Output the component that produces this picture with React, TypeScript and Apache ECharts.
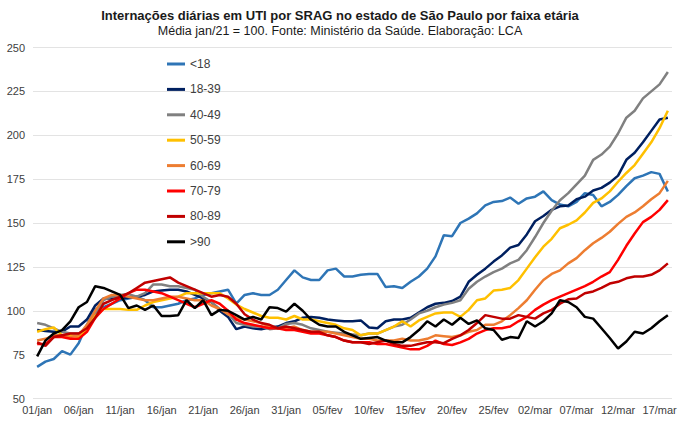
import React, { useEffect, useRef } from 'react';
import * as echarts from 'echarts';

const categories = [
  '01/jan','02/jan','03/jan','04/jan','05/jan','06/jan','07/jan','08/jan','09/jan','10/jan',
  '11/jan','12/jan','13/jan','14/jan','15/jan','16/jan','17/jan','18/jan','19/jan','20/jan',
  '21/jan','22/jan','23/jan','24/jan','25/jan','26/jan','27/jan','28/jan','29/jan','30/jan',
  '31/jan','01/fev','02/fev','03/fev','04/fev','05/fev','06/fev','07/fev','08/fev','09/fev',
  '10/fev','11/fev','12/fev','13/fev','14/fev','15/fev','16/fev','17/fev','18/fev','19/fev',
  '20/fev','21/fev','22/fev','23/fev','24/fev','25/fev','26/fev','27/fev','28/fev','01/mar',
  '02/mar','03/mar','04/mar','05/mar','06/mar','07/mar','08/mar','09/mar','10/mar','11/mar',
  '12/mar','13/mar','14/mar','15/mar','16/mar','17/mar','18/mar'
];

const under18 = [
  68, 71, 72.5, 77, 75, 81.5, 92, 101, 102, 104,
  106, 107, 108, 106, 102, 102, 103, 104, 106, 107,
  109, 110, 111, 112, 104, 109, 110, 109, 109, 112,
  117.5, 123, 119, 117.5, 117.5, 123, 124, 119.5, 119.5, 120.5,
  121, 121, 113.5, 114, 113, 116.5, 119.5, 124, 131, 143,
  142.5, 150, 152.5, 155.5, 160, 162, 162.5, 164.5, 161, 164,
  165, 168, 163, 160.5, 159.5, 162, 167, 166, 159.5, 162,
  166, 171, 175.5, 177, 179, 178, 168
];

const age18to39 = [
  89, 88.5, 88, 88, 91, 91, 95, 103, 107, 107,
  107, 107.5, 108, 109, 111, 111.5, 112, 112, 111, 109,
  107, 105, 100, 96.5, 89.5, 91, 90, 89.5, 90.5, 91,
  93, 94, 96, 96.5, 96, 95, 94.5, 94, 94, 94.5,
  90.5, 90, 94, 95, 95, 96, 99, 102, 104, 104.5,
  105.5, 108, 116.5, 120.5, 124, 128, 131.5, 136, 137.5, 143.5,
  151, 154, 157.5, 159.5, 160, 163.5, 165, 168.5, 170, 173,
  177, 186, 190, 196, 202.5, 209, 210
];

const age40to49 = [
  93, 92, 90, 88, 87, 87, 90, 98, 106, 108,
  109, 109.5, 108, 110, 115, 115, 114, 114, 113, 112,
  108, 105, 101, 98.5, 93, 92, 91, 91, 89.5, 90,
  92.5, 93, 92, 90, 89, 88, 87.5, 87, 86.5, 86,
  87, 87, 89, 91, 92, 95, 98.5, 100, 102, 103.5,
  104.5, 106, 112.5, 116.5, 119.5, 122, 124, 127, 129, 134.5,
  142, 150, 157, 163, 167, 172, 177, 186, 189, 193.5,
  201, 210, 214, 221, 225, 229, 236
];

const age50to59 = [
  88, 89.5, 90.5, 86, 86, 85, 90, 97, 101, 101,
  101, 100.5, 100.5, 103, 105, 106, 107, 108, 110, 110,
  110, 110, 110, 107, 103.5, 101, 99, 97, 96, 96,
  95, 97, 95, 95, 94, 93, 92, 90, 89, 86,
  87, 87, 89, 91, 94, 91, 94.5, 96.5, 98.5, 99,
  99, 96.5, 100.5, 106, 107, 111.5, 112, 113, 117.5, 124,
  130.5, 136.5, 141, 147, 149, 151.5, 156, 161.5, 164, 168,
  173.5, 178.5, 183, 189.5, 196, 204, 214
];

const age60to69 = [
  83, 84, 86, 86, 85, 86, 92, 100, 107, 109,
  109, 108, 107, 106, 106, 107, 108, 108, 107, 106,
  106, 103, 101, 98, 96, 95, 94, 93, 91, 90,
  90, 91, 89, 88, 88, 88, 87, 86, 85, 84,
  84, 83, 83, 83, 84, 83, 83, 84, 86, 85.5,
  85, 86, 88, 89, 92, 92, 94, 97.5, 101.5, 106,
  112, 117.5, 121, 123, 127, 130, 134.5, 138.5, 141.5, 145,
  149.5, 153.5, 156, 159.5, 163.5, 167, 174
];

const age70to79 = [
  81, 81, 85, 85, 84, 84, 88, 96, 101, 104,
  107, 110, 112, 112, 111, 110, 108, 106, 104, 102,
  104, 106, 104, 100, 95, 93, 92, 91, 90, 90,
  89, 89, 88, 87, 87, 86, 85, 83, 82, 82,
  82, 81, 81, 80, 79, 78, 78, 80, 83, 81,
  80.5, 82, 84, 87, 89, 90, 90, 91, 94, 96.5,
  100.5, 103.5, 106, 108, 110, 112, 114, 116.5, 119.5, 122,
  129, 137, 144, 150.5, 153.5, 157.5, 163
];

const age80to89 = [
  82, 80, 85, 86, 87, 87, 90, 96, 104, 106,
  108, 110, 113, 116, 117, 118, 119, 116, 114, 112,
  110, 108, 109, 108, 104, 98, 95, 93, 92, 90,
  91, 90, 89, 88, 88, 86, 85, 83, 82, 82,
  81, 82, 83, 81, 80, 80, 81, 82, 82, 81.5,
  84, 86, 89, 93, 97.5, 96.5, 95.5, 95.5, 97.5, 96.5,
  95.5, 98.5, 100.5, 104, 106.5, 107, 110, 111, 113, 115.5,
  116.5, 118.5, 119.5, 119.5, 120.5, 123, 127
];

const over90 = [
  74, 83, 87, 89, 94, 102, 105, 114, 113, 111,
  109, 101.5, 103, 100.5, 103, 97, 97, 97.5, 106, 101.5,
  106, 97.5, 100.5, 100, 97.5, 95, 96.5, 95, 102, 101.5,
  99.5, 104, 100, 95, 92, 91, 91, 88, 86, 84,
  84.5, 85, 83, 82, 82, 85, 89, 94, 91, 95,
  92, 96, 92.5, 94.5, 90, 89, 83.5, 85, 84.5, 94,
  91, 94, 98.5, 106, 105, 102, 96.5, 95.5, 90, 84.5,
  78.5, 82.5, 88, 87, 90, 94, 97.5
];

const seriesNames = ['<18', '18-39', '40-49', '50-59', '60-69', '70-79', '80-89', '>90'];
const seriesColors = ['#2E75B6', '#002060', '#808080', '#FFC000', '#ED7D31', '#FF0000', '#C00000', '#000000'];
const seriesValues = [under18, age18to39, age40to49, age50to59, age60to69, age70to79, age80to89, over90];

const titleText = 'Internações diárias em UTI por SRAG no estado de São Paulo por faixa etária';
const subtitleText = 'Média jan/21 = 100. Fonte: Ministério da Saúde. Elaboração: LCA';

const FONT = "'Liberation Sans', Arial, sans-serif";

export default function App() {
  const ref = useRef<HTMLDivElement>(null);
  useEffect(() => {
    if (!ref.current) return;
    const chart = echarts.init(ref.current, null, { renderer: 'svg' });
    chart.setOption({
      animation: false,
      backgroundColor: '#ffffff',
      textStyle: { fontFamily: FONT },
      title: [
        {
          text: titleText,
          left: 'center',
          top: 9,
          padding: 0,
          textStyle: { fontFamily: FONT, fontSize: 13, fontWeight: 'bold', color: '#1a1a1a' },
        },
        {
          text: subtitleText,
          left: 'center',
          top: 24,
          padding: 0,
          textStyle: { fontFamily: FONT, fontSize: 12.5, fontWeight: 'normal', color: '#1a1a1a' },
        },
      ],
      legend: {
        data: seriesNames,
        orient: 'vertical',
        left: 167,
        top: 58,
        padding: 0,
        itemWidth: 18,
        itemHeight: 3,
        itemGap: 13.4,
        icon: 'rect',
        textStyle: { fontFamily: FONT, fontSize: 12, color: '#404040' },
      },
      grid: { left: 33, right: 8, top: 47.5, bottom: 25.5, containLabel: false },
      xAxis: {
        type: 'category',
        data: categories,
        boundaryGap: true,
        axisLine: { show: false },
        axisTick: { show: false },
        axisLabel: { interval: 4, fontFamily: FONT, fontSize: 11, color: '#404040', margin: 6 },
        splitLine: { show: false },
      },
      yAxis: {
        type: 'value',
        min: 50,
        max: 250,
        interval: 25,
        axisLine: { show: false },
        axisTick: { show: false },
        axisLabel: { fontFamily: FONT, fontSize: 11, color: '#404040', margin: 8 },
        splitLine: { lineStyle: { color: '#E3E3E3', width: 1 } },
      },
      series: seriesNames.map((name, k) => ({
        name,
        type: 'line',
        data: seriesValues[k],
        showSymbol: false,
        symbol: 'none',
        lineStyle: { color: seriesColors[k], width: 2.5 },
        itemStyle: { color: seriesColors[k] },
        emphasis: { disabled: true },
      })),
    });
    return () => chart.dispose();
  }, []);
  return (
    <div
      ref={ref}
      style={{ position: 'absolute', left: 0, top: 0, width: 680, height: 424, background: '#fff' }}
    />
  );
}
